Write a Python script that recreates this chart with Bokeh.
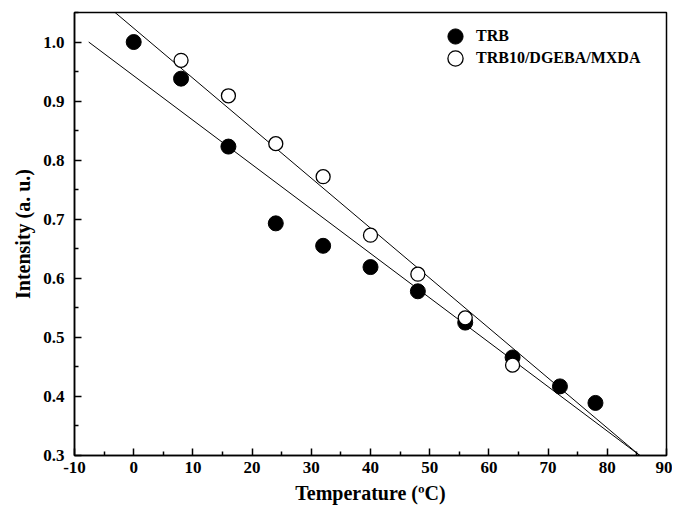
from bokeh.plotting import figure
from bokeh.models import Range1d, FixedTicker, PrintfTickFormatter, Legend, LegendItem
from bokeh.embed import file_html
from bokeh.resources import INLINE

# data
trb_t = [0, 8, 16, 24, 32, 40, 48, 56, 64, 72, 78]
trb_i = [1.0, 0.938, 0.823, 0.693, 0.655, 0.619, 0.578, 0.525, 0.466, 0.417, 0.389]
mix_t = [8, 16, 24, 32, 40, 48, 56, 64]
mix_i = [0.969, 0.909, 0.828, 0.772, 0.673, 0.607, 0.533, 0.453]
# fitted lines (end points)
fit_trb_t = [-7.6, 85.5]
fit_trb_i = [1.0, 0.3]
fit_mix_t = [-3.5, 85.5]
fit_mix_i = [1.053, 0.3]

x_ticks = [-10, 0, 10, 20, 30, 40, 50, 60, 70, 80, 90]
y_ticks = [0.3, 0.4, 0.5, 0.6, 0.7, 0.8, 0.9, 1.0]

FONT = "Liberation Serif"

p = figure(width=672, height=507, output_backend="svg", toolbar_location=None,
           x_range=Range1d(-10, 90), y_range=Range1d(0.3, 1.05),
           min_border_left=74, min_border_right=6, min_border_top=12, min_border_bottom=52)
p.grid.visible = False
p.outline_line_color = "black"
p.outline_line_width = 1.5
p.background_fill_color = "white"

l1 = p.line(fit_trb_t, fit_trb_i, line_color="black", line_width=1)
l2 = p.line(fit_mix_t, fit_mix_i, line_color="black", line_width=1)
r1 = p.scatter(trb_t, trb_i, size=15, marker="circle", fill_color="black", line_color="black")
r2 = p.scatter(mix_t, mix_i, size=14, marker="circle", fill_color="white", line_color="black", line_width=1.3)

for ax in (p.xaxis[0], p.yaxis[0]):
    ax.axis_line_width = 1.5
    ax.major_tick_in = 7
    ax.major_tick_out = 0
    ax.minor_tick_in = 4
    ax.minor_tick_out = 0
    ax.major_tick_line_width = 1.5
    ax.minor_tick_line_width = 1.5
    ax.major_label_text_font = FONT
    ax.major_label_text_font_style = "bold"
    ax.major_label_text_font_size = "17px"
    ax.axis_label_text_font = FONT
    ax.axis_label_text_font_style = "bold"
    ax.axis_label_text_font_size = "20px"
    ax.major_label_text_color = "black"
    ax.axis_label_text_color = "black"

p.xaxis.ticker = FixedTicker(ticks=x_ticks, minor_ticks=[v + 5 for v in x_ticks[:-1]])
p.yaxis.ticker = FixedTicker(ticks=y_ticks, minor_ticks=[round(v + 0.05, 2) for v in y_ticks])
p.yaxis.formatter = PrintfTickFormatter(format="%.1f")
p.xaxis.formatter = PrintfTickFormatter(format="%d")
p.xaxis.axis_label = "Temperature (ºC)"
p.yaxis.axis_label = "Intensity (a. u.)"
p.xaxis.major_label_standoff = 6
p.yaxis.major_label_standoff = 10
p.xaxis.axis_label_standoff = 6
p.yaxis.axis_label_standoff = 6


def make_legend(label, renderer, loc):
    lg = Legend(items=[LegendItem(label=label, renderers=[renderer])], location=loc)
    lg.border_line_color = None
    lg.background_fill_alpha = 0
    lg.label_text_font = FONT
    lg.label_text_font_style = "bold"
    lg.label_text_font_size = "16px"
    lg.label_text_color = "black"
    lg.glyph_width = 38
    lg.glyph_height = 38
    lg.label_standoff = 2
    lg.margin = 0
    lg.padding = 0
    return lg


p.add_layout(make_legend("TRB", r1, (362, 400)))
p.add_layout(make_legend("TRB10/DGEBA/MXDA", r2, (362, 378)))

open("out.html", "w").write(file_html(p, INLINE))
